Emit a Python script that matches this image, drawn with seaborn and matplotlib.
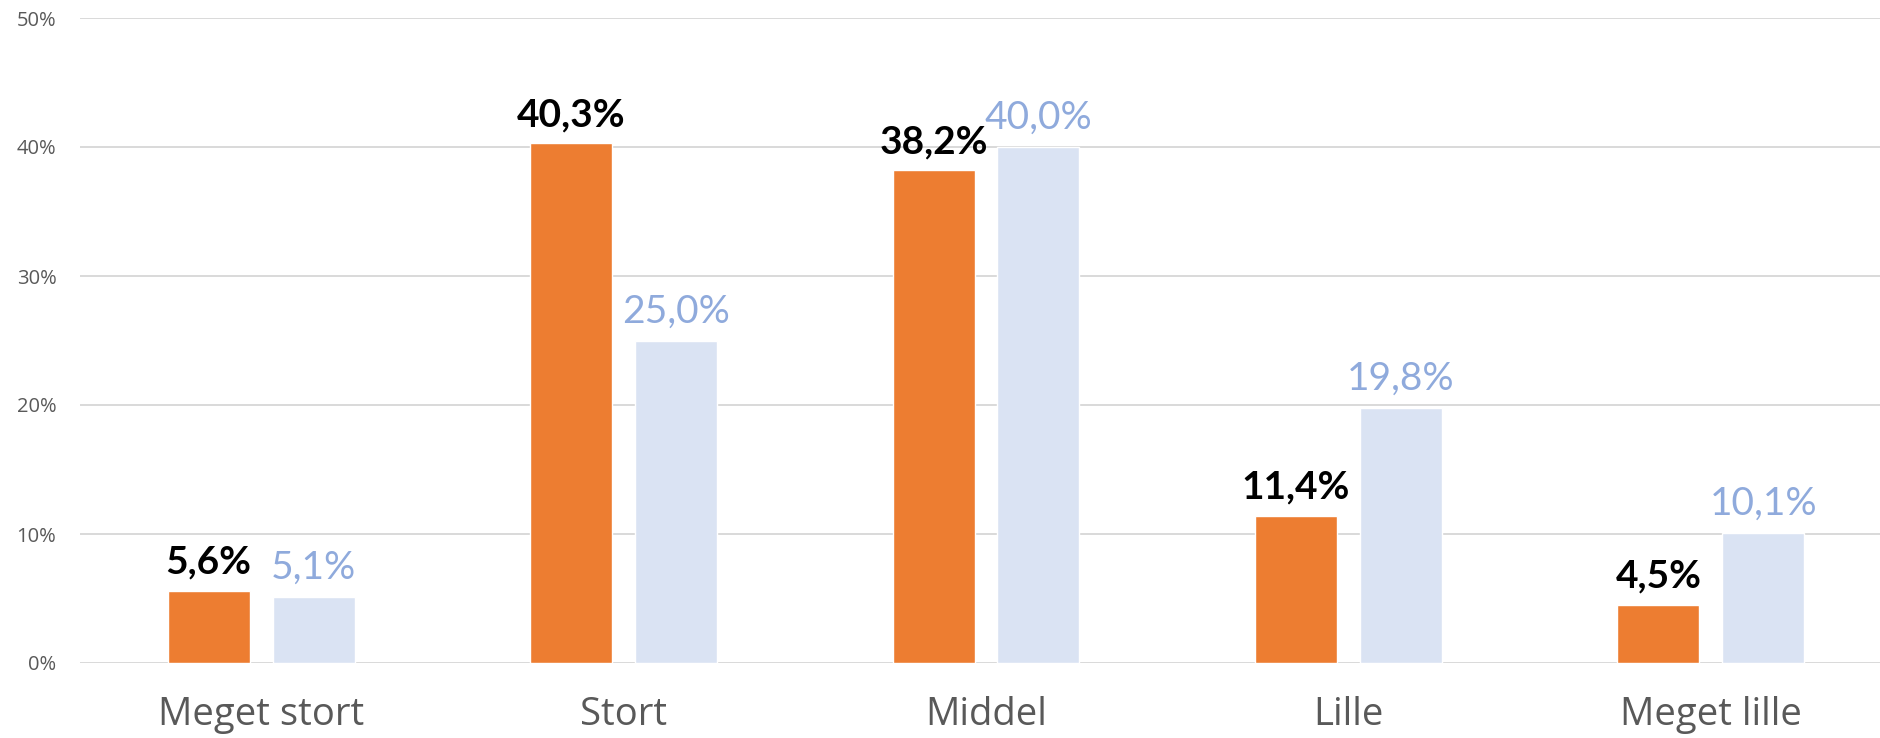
import seaborn as sns
import matplotlib.pyplot as plt
import pandas as pd
from matplotlib.ticker import FuncFormatter

# Data (percent)
categories = ["Meget stort", "Stort", "Middel", "Lille", "Meget lille"]
series_names = ["Serie 1", "Serie 2"]
serie1 = [5.6, 40.3, 38.2, 11.4, 4.5]
serie2 = [5.1, 25.0, 40.0, 19.8, 10.1]
y_ticks = [0, 10, 20, 30, 40, 50]

ORANGE = "#ED7D31"
LIGHT_BLUE = "#DAE3F3"
BLUE_TEXT = "#8FAADC"
GREY_TEXT = "#595959"
GRID = "#D9D9D9"

df = pd.DataFrame({
    "Kategori": categories * 2,
    "Andel": serie1 + serie2,
    "Serie": [series_names[0]] * len(serie1) + [series_names[1]] * len(serie2),
})

sns.set_theme(style="white")
plt.rcParams["font.family"] = ["Open Sans", "DejaVu Sans"]

fig = plt.figure(figsize=(18.8, 7.38), dpi=100)
# plot area runs a little past the right edge of the image
ax = fig.add_axes([80 / 1880, 75 / 738, 1812 / 1880, 645 / 738])

sns.barplot(data=df, x="Kategori", y="Andel", hue="Serie", order=categories,
            hue_order=series_names, palette=[ORANGE, LIGHT_BLUE], saturation=1,
            width=0.579, gap=0.218, legend=False, ax=ax, errorbar=None)

ax.set_xlim(-0.5, len(categories) - 0.5)
ax.set_ylim(0, 50)
ax.set_yticks(y_ticks)
ax.yaxis.set_major_formatter(FuncFormatter(lambda v, p: f"{v:.0f}%"))
ax.grid(axis="y", color=GRID, linewidth=1.4)
ax.set_axisbelow(True)
sns.despine(ax=ax, left=True, bottom=True)
ax.set_xlabel("")
ax.set_ylabel("")

ax.tick_params(axis="x", length=0, pad=24, labelsize=27.5, labelcolor=GREY_TEXT)
ax.tick_params(axis="y", length=0, pad=17, labelsize=14.5, labelcolor=GREY_TEXT)

# Value labels with comma decimals
ax.bar_label(ax.containers[0], labels=[f"{v:.1f}%".replace(".", ",") for v in serie1],
             padding=8, fontsize=28, fontweight="bold", color="black", family=["Lato", "DejaVu Sans"])
ax.bar_label(ax.containers[1], labels=[f"{v:.1f}%".replace(".", ",") for v in serie2],
             padding=8, fontsize=28, color=BLUE_TEXT, family=["Lato", "DejaVu Sans"])

fig.savefig("out.png", dpi=100)
plt.close(fig)
